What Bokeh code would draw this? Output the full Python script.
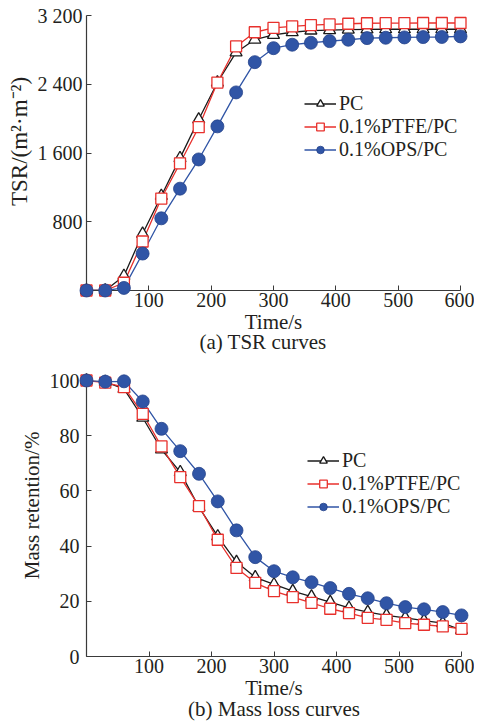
from bokeh.plotting import figure
from bokeh.layouts import column
from bokeh.models import Legend, LegendItem, FixedTicker, Title, Label, Range1d
from bokeh.embed import file_html
from bokeh.resources import INLINE

# ---------------- data ----------------
time_s = [0, 30, 60, 90, 120, 150, 180, 210, 240, 270, 300,
          330, 360, 390, 420, 450, 480, 510, 540, 570, 600]

tsr_pc = [0, 0, 170, 660, 1100, 1540, 1990, 2420, 2770, 2920, 2975,
          3005, 3025, 3030, 3035, 3038, 3040, 3040, 3040, 3040, 3040]
tsr_ptfe = [0, 0, 90, 570, 1070, 1480, 1900, 2420, 2840, 3005, 3055,
            3073, 3088, 3096, 3104, 3110, 3112, 3112, 3113, 3113, 3113]
tsr_ops = [0, 0, 30, 430, 840, 1185, 1525, 1910, 2305, 2657, 2820,
           2860, 2883, 2902, 2918, 2937, 2941, 2945, 2949, 2950, 2957]

mass_pc = [100, 99.5, 97.0, 86.5, 75.0, 66.8, 54.1, 43.5, 34.2, 28.7, 26.1,
           23.7, 21.7, 19.7, 17.6, 16.1, 14.9, 14.0, 13.0, 12.1, 9.6]
mass_ptfe = [100, 99.2, 97.6, 87.9, 76.1, 65.0, 54.5, 42.3, 32.1, 26.7, 23.7,
             21.5, 19.4, 17.3, 15.7, 14.0, 13.3, 12.1, 11.5, 10.9, 10.0]
mass_ops = [100, 99.6, 99.7, 92.4, 82.5, 74.4, 66.2, 56.2, 45.7, 36.0, 30.9,
            28.7, 26.9, 24.8, 22.7, 21.1, 19.3, 17.9, 17.1, 16.1, 14.9]

series_names = ["PC", "0.1%PTFE/PC", "0.1%OPS/PC"]

x_ticks = [0, 100, 200, 300, 400, 500, 600]
tsr_ticks = [0, 800, 1600, 2400, 3200]
tsr_tick_labels = ["", "800", "1 600", "2 400", "3 200"]
mass_ticks = [0, 20, 40, 60, 80, 100]

# ---------------- style ----------------
FONT = "Liberation Serif"
TICK_FS = "20px"
XLAB_FS = "21px"
LEG_FS = "20px"
CAP_FS = "21px"
TXT = "#231F20"
AX = "#3a3a3a"
BLACK = "#1a1a1a"
RED = "#E8302C"
BLUE = "#3055A6"
NB = "\u00a0"


def style_axes(p, ystand, ylab_fs):
    for ax in (p.xaxis[0], p.yaxis[0]):
        ax.axis_line_color = AX
        ax.axis_line_width = 1.2
        ax.major_tick_line_color = AX
        ax.major_tick_in = 5
        ax.major_tick_out = 0
        ax.minor_tick_line_color = None
        ax.major_label_text_font = FONT
        ax.major_label_text_font_size = TICK_FS
        ax.major_label_text_color = TXT
        ax.axis_label_text_font = FONT
        ax.axis_label_text_font_style = "normal"
        ax.axis_label_text_color = TXT
    p.xaxis.axis_label_text_font_size = XLAB_FS
    p.yaxis.axis_label_text_font_size = ylab_fs
    p.xaxis.major_label_standoff = 2
    p.xaxis.axis_label_standoff = 0
    p.yaxis.major_label_standoff = ystand
    p.yaxis.axis_label_standoff = 3
    p.xgrid.visible = False
    p.ygrid.visible = False
    p.outline_line_color = None


def add_series(p, ys_list):
    r1 = p.line(time_s, ys_list[0], line_color=BLACK, line_width=1.3)
    s1 = p.scatter(time_s, ys_list[0], marker="triangle", size=12,
                   fill_color="white", line_color=BLACK, line_width=1.3,
                   level="overlay")
    r2 = p.line(time_s, ys_list[1], line_color=RED, line_width=1.3)
    s2 = p.scatter(time_s, ys_list[1], marker="square", size=11,
                   fill_color="white", line_color=RED, line_width=1.3,
                   level="overlay")
    r3 = p.line(time_s, ys_list[2], line_color=BLUE, line_width=1.3)
    s3 = p.scatter(time_s, ys_list[2], marker="circle", size=13,
                   fill_color=BLUE, line_color="#24438a", line_width=0.8,
                   level="overlay")
    return [[r1, s1], [r2, s2], [r3, s3]]


def add_legend(p, rs, loc):
    items = [LegendItem(label=n, renderers=r) for n, r in zip(series_names, rs)]
    lg = Legend(items=items, location=loc, orientation="vertical",
                label_text_font=FONT, label_text_font_size=LEG_FS,
                label_text_line_height=1.0,
                label_text_color=TXT, glyph_width=32, glyph_height=19,
                label_height=19, label_standoff=3, spacing=0, padding=0,
                margin=0, background_fill_alpha=0, border_line_alpha=0)
    p.add_layout(lg, "center")


def caption(p, text, standoff):
    t = Title(text=text, align="center", text_font=FONT, text_font_size=CAP_FS,
              text_font_style="normal", text_color=TXT, standoff=standoff)
    p.add_layout(t, "below")


# ---------------- top: TSR ----------------
p1 = figure(frame_width=374, frame_height=275, min_border_left=86,
            min_border_right=14, min_border_top=15, min_border_bottom=75,
            x_range=Range1d(0, 600), y_range=Range1d(0, 3200),
            output_backend="svg", toolbar_location=None)
style_axes(p1, 4, "23px")
p1.xaxis.ticker = FixedTicker(ticks=x_ticks)
p1.xaxis.major_label_overrides = {0: ""}
p1.yaxis.ticker = FixedTicker(ticks=tsr_ticks)
p1.yaxis.major_label_overrides = {t: l for t, l in zip(tsr_ticks, tsr_tick_labels)}
p1.xaxis.axis_label = "Time/s"
p1.yaxis.axis_label = NB * 4 + "TSR/(m\u00b2\u00b7m\u207b\u00b2)"
rs1 = add_series(p1, [tsr_pc, tsr_ptfe, tsr_ops])
add_legend(p1, rs1, (218, 129))
p1.add_layout(Label(x=0, y=0, text="0", x_offset=-9, y_offset=-2,
                    text_align="center", text_baseline="top",
                    text_font=FONT, text_font_size=TICK_FS, text_color=TXT))
caption(p1, "(a) TSR curves" + NB * 4, -18)

# ---------------- bottom: mass ----------------
p2 = figure(frame_width=375, frame_height=276, min_border_left=85,
            min_border_right=14, min_border_top=15, min_border_bottom=66,
            x_range=Range1d(0, 600), y_range=Range1d(0, 100),
            output_backend="svg", toolbar_location=None)
style_axes(p2, 7, "21px")
p2.xaxis.ticker = FixedTicker(ticks=x_ticks)
p2.xaxis.major_label_overrides = {0: ""}
p2.yaxis.ticker = FixedTicker(ticks=mass_ticks)
p2.xaxis.axis_label = "Time/s"
p2.yaxis.axis_label = NB * 5 + "Mass retention/%"
rs2 = add_series(p2, [mass_pc, mass_ptfe, mass_ops])
add_legend(p2, rs2, (221, 138))
caption(p2, "(b) Mass loss curves", -16)

layout = column(p1, p2, spacing=0)
open("out.html", "w").write(file_html(layout, INLINE))
